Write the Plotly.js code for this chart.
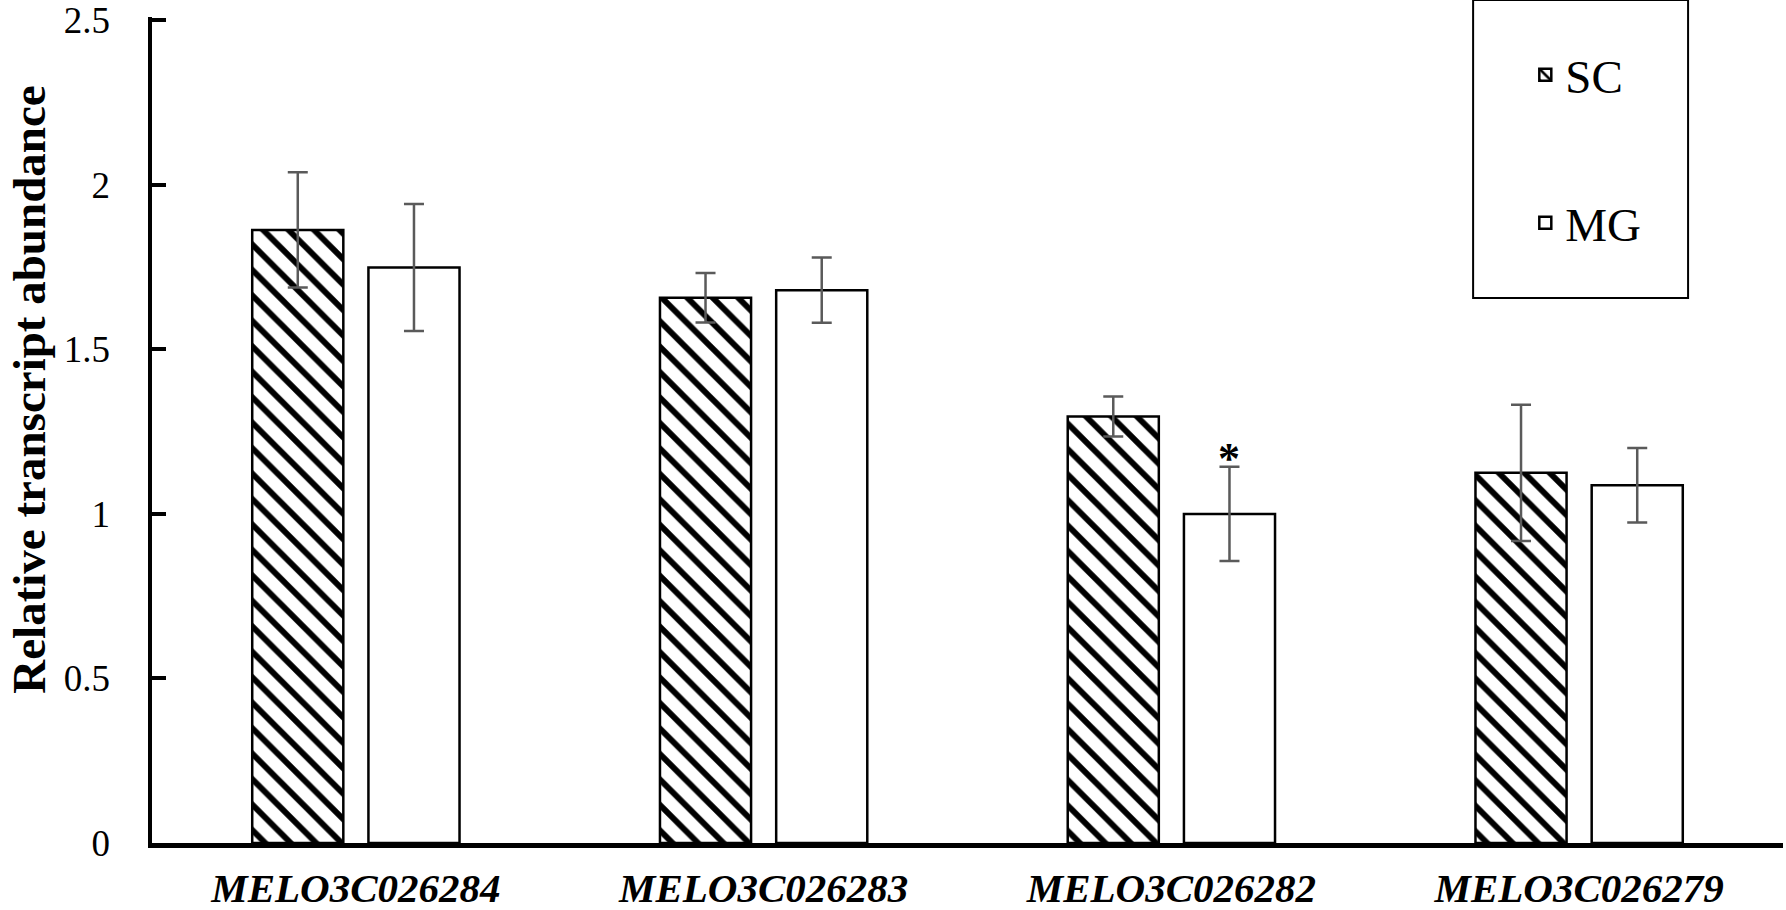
<!DOCTYPE html>
<html>
<head>
<meta charset="utf-8">
<script src="https://cdn.plot.ly/plotly-3.0.1.min.js"></script>
<style>html,body{margin:0;padding:0;background:#fff;}#chart{width:1786px;height:910px;}</style>
</head>
<body>
<div id="chart"></div>
<script>
// Data
const genes = ['MELO3C026284', 'MELO3C026283', 'MELO3C026282', 'MELO3C026279'];
const scValues = [1.863, 1.657, 1.296, 1.125];
const scErrors = [0.175, 0.075, 0.061, 0.207];
const mgValues = [1.749, 1.680, 1.000, 1.087];
const mgErrors = [0.193, 0.099, 0.143, 0.113];
const yTickVals = [0, 0.5, 1, 1.5, 2, 2.5];
const yTickText = ['0', '0.5', '1', '1.5', '2', '2.5'];
const seriesNames = ['SC', 'MG'];
const yTitle = 'Relative transcript abundance';

const serif = '"Liberation Serif", "Times New Roman", serif';

const traceSC = {
  type: 'bar', name: seriesNames[0], x: genes, y: scValues,
  legendgroup: 'a',
  marker: {
    color: 'white',
    line: {color: 'black', width: 2.5},
    pattern: {shape: '\\', fgcolor: 'black', bgcolor: 'white', size: 18, solidity: 0.33, fillmode: 'replace'}
  },
  error_y: {type: 'data', array: scErrors, visible: true, color: '#5a5a5a', thickness: 2.5, width: 10}
};
const traceMG = {
  type: 'bar', name: seriesNames[1], x: genes, y: mgValues,
  legendgroup: 'b',
  marker: {color: 'white', line: {color: 'black', width: 2.5}},
  error_y: {type: 'data', array: mgErrors, visible: true, color: '#5a5a5a', thickness: 2.5, width: 10}
};

const layout = {
  width: 1786, height: 910,
  margin: {l: 152, r: 3, t: 17, b: 67, pad: 0},
  paper_bgcolor: 'white', plot_bgcolor: 'white',
  barmode: 'group', bargap: 0.43, bargroupgap: 0.216,
  showlegend: true,
  legend: {
    x: 0.842, xanchor: 'left', y: 0.975, yanchor: 'top',
    font: {family: serif, size: 47, color: 'black'},
    bgcolor: 'rgba(0,0,0,0)', borderwidth: 0,
    traceorder: 'grouped', tracegroupgap: 84, itemwidth: 30
  },
  xaxis: {
    type: 'category', range: [-0.5, 3.5],
    showline: true, linecolor: 'black', linewidth: 5,
    ticks: '', showgrid: false, zeroline: false,
    tickfont: {family: serif, size: 41, color: 'black', weight: 'bold', style: 'italic'},
    ticklabelstandoff: 5
  },
  yaxis: {
    range: [0, 2.51], tickvals: yTickVals, ticktext: yTickText,
    showline: true, linecolor: 'black', linewidth: 4.5,
    ticks: 'inside', ticklen: 14, tickwidth: 4, tickcolor: 'black',
    showgrid: false, zeroline: false,
    tickfont: {family: serif, size: 37, color: 'black'},
    ticklabelstandoff: 30, ticklabeloverflow: 'allow'
  },
  shapes: [{
    type: 'rect', xref: 'paper', yref: 'paper',
    x0: 0.810, x1: 0.9418, y0: 0.6598, y1: 1.0207,
    line: {color: 'black', width: 2}, fillcolor: 'rgba(0,0,0,0)'
  }],
  annotations: [
    {
      text: '<b>' + yTitle + '</b>', xref: 'paper', yref: 'paper',
      x: -0.0755, y: 0.5486, xanchor: 'center', yanchor: 'middle',
      textangle: -90, showarrow: false,
      font: {family: serif, size: 47, color: 'black'}
    },
    {
      text: '<b>*</b>', x: genes[2], y: mgValues[2] + mgErrors[2],
      xref: 'x', yref: 'y', xshift: 58, yshift: -18,
      xanchor: 'center', yanchor: 'bottom', showarrow: false,
      font: {family: serif, size: 44, color: 'black'}
    }
  ]
};

Plotly.newPlot('chart', [traceSC, traceMG], layout, {displayModeBar: false, staticPlot: true});
</script>
</body>
</html>
